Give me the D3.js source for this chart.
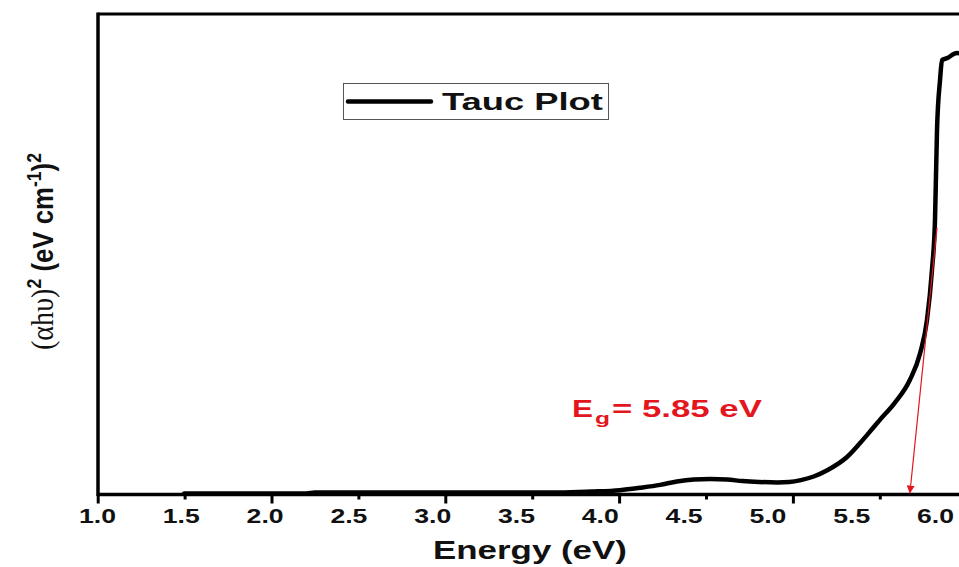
<!DOCTYPE html>
<html>
<head>
<meta charset="utf-8">
<script src="https://cdn.jsdelivr.net/npm/d3@7"></script>
<style>
  html, body { margin: 0; padding: 0; background: #fff; }
  svg { display: block; }
</style>
</head>
<body>
<svg id="chart" width="959" height="567"></svg>
<script>
// ---- data ----
const energy = [1.52, 1.8, 2.1, 2.25, 2.3, 2.6, 3.0, 3.4, 3.76, 3.95, 4.12, 4.24, 4.36, 4.46, 4.56, 4.66, 4.76, 4.85, 4.95, 5.06, 5.13, 5.2, 5.28, 5.36, 5.475, 5.553, 5.63, 5.67, 5.76, 5.85, 5.911, 5.952, 5.982, 6.0, 6.012, 6.03, 6.042, 6.072, 6.131, 6.16];
const tauc   = [0.001, 0.001, 0.001, 0.0012, 0.003, 0.003, 0.003, 0.003, 0.003, 0.005, 0.008, 0.013, 0.019, 0.026, 0.030, 0.031, 0.030, 0.027, 0.025, 0.024, 0.025, 0.029, 0.037, 0.050, 0.077, 0.106, 0.1375, 0.154, 0.19, 0.2375, 0.293, 0.362, 0.467, 0.571, 0.758, 0.8625, 0.904, 0.908, 0.919, 0.916];
const majorTicks = [1.0, 2.0, 3.0, 4.0, 5.0, 6.0];
const minorTicks = [1.5, 2.5, 3.5, 4.5, 5.5];
const tickLabels = [1.0, 1.5, 2.0, 2.5, 3.0, 3.5, 4.0, 4.5, 5.0, 5.5, 6.0];
const tangent = [[6.012, 0.555], [5.85, 0.0]];
const bandGap = 5.85;
const legendLabel = "Tauc Plot";
const xTitle = "Energy (eV)";

// ---- layout ----
const svg = d3.select("#chart");
const FONT = "'Liberation Sans', Arial, Helvetica, sans-serif";
const padL = 98, padT = 14, padB = 494.5, padR = 959;

const x = d3.scaleLinear().domain([1.0, 6.0]).range([97, 935]);        // data & labels
const xt = d3.scaleLinear().domain([1.0, 6.0]).range([97.7, 966.7]);   // tick marks
const y = d3.scaleLinear().domain([0, 1]).range([494, 14]);

// tick marks
const gMaj = svg.append("g").attr("transform", `translate(0,${padB})`)
  .call(d3.axisBottom(xt).tickValues(majorTicks).tickSize(9).tickFormat(""));
const gMin = svg.append("g").attr("transform", `translate(0,${padB})`)
  .call(d3.axisBottom(xt).tickValues(minorTicks).tickSize(5).tickFormat(""));
[gMaj, gMin].forEach(g => {
  g.select(".domain").remove();
  g.selectAll(".tick line").attr("stroke", "#000").attr("stroke-width", 3);
});

// tick labels
const gLab = svg.append("g").attr("transform", `translate(0,${padB})`)
  .call(d3.axisBottom(x).tickValues(tickLabels).tickSize(0).tickFormat(d3.format(".1f")));
gLab.select(".domain").remove();
gLab.selectAll(".tick text")
  .attr("y", 0).attr("dy", null)
  .attr("fill", "#111")
  .style("font-family", FONT).style("font-weight", "bold").style("font-size", "19.5px")
  .each(function () {
    const w = this.getComputedTextLength();
    d3.select(this).attr("transform", `translate(0,28) scale(${37 / w},1)`);
  });

// frame
svg.append("line").attr("x1", padL).attr("x2", padR).attr("y1", padT).attr("y2", padT)
  .attr("stroke", "#000").attr("stroke-width", 3);
svg.append("line").attr("x1", padL).attr("x2", padL).attr("y1", padT - 1.5).attr("y2", padB + 1.5)
  .attr("stroke", "#000").attr("stroke-width", 3.5);
svg.append("line").attr("x1", padL).attr("x2", padR).attr("y1", padB).attr("y2", padB)
  .attr("stroke", "#000").attr("stroke-width", 3.5);

// curve
const line = d3.line().x(d => x(d[0])).y(d => y(d[1])).curve(d3.curveMonotoneX);
svg.append("path").datum(energy.map((e, i) => [e, tauc[i]]))
  .attr("d", line).attr("fill", "none").attr("stroke", "#000")
  .attr("stroke-width", 4.5).attr("stroke-linejoin", "round").attr("stroke-linecap", "round");

// tangent + arrow
const red = "#e3161e";
svg.append("defs").append("marker").attr("id", "arr")
  .attr("viewBox", "0 0 10 10").attr("refX", 10).attr("refY", 5)
  .attr("markerWidth", 8).attr("markerHeight", 8).attr("markerUnits", "userSpaceOnUse")
  .attr("orient", "auto")
  .append("path").attr("d", "M0,0 L10,5 L0,10 Z").attr("fill", red);
svg.append("line")
  .attr("x1", x(tangent[0][0])).attr("y1", y(tangent[0][1]))
  .attr("x2", x(tangent[1][0])).attr("y2", y(tangent[1][1]) - 0.5)
  .attr("stroke", red).attr("stroke-width", 1.2).attr("marker-end", "url(#arr)");

// helper to stretch text to a measured width
function fitText(parent, str, opts) {
  const g = parent.append("g");
  const t = g.append("text").text(str)
    .attr("fill", opts.fill || "#111")
    .style("font-family", opts.family || FONT)
    .style("font-weight", opts.weight || "bold")
    .style("font-size", opts.size + "px");
  const w = t.node().getComputedTextLength();
  g.attr("transform", `translate(${opts.x},${opts.y}) scale(${opts.w / w},1)`);
  return g;
}

// band gap label
fitText(svg, "E", { x: 572, y: 417, w: 21, size: 24, fill: red });
fitText(svg, "g", { x: 595, y: 424, w: 15, size: 17, fill: red });
fitText(svg, "= " + bandGap.toFixed(2) + " eV", { x: 612, y: 417, w: 150, size: 24, fill: red });

// legend
svg.append("rect").attr("x", 343.5).attr("y", 83.5).attr("width", 265).attr("height", 36)
  .attr("fill", "#fff").attr("stroke", "#555").attr("stroke-width", 1);
svg.append("line").attr("x1", 348).attr("x2", 431).attr("y1", 101.5).attr("y2", 101.5)
  .attr("stroke", "#000").attr("stroke-width", 4.5).attr("stroke-linecap", "round");
fitText(svg, legendLabel, { x: 442, y: 109.5, w: 161, size: 24 });

// x title
fitText(svg, xTitle, { x: 433, y: 559, w: 194, size: 26 });

// y title
const gy = svg.append("g");
const ty = gy.append("text").attr("fill", "#111")
  .style("font-family", FONT).style("font-weight", "bold").style("font-size", "22px");
ty.append("tspan").text("(αhυ)").style("font-family", "'Liberation Serif', 'DejaVu Serif', serif").style("font-weight", "normal").style("font-size", "24px");
ty.append("tspan").text("2").attr("dy", -9).style("font-size", "15px");
ty.append("tspan").text(" (eV cm").attr("dy", 9);
ty.append("tspan").text("-1").attr("dy", -9).style("font-size", "15px");
ty.append("tspan").text(")").attr("dy", 9);
ty.append("tspan").text("2").attr("dy", -9).style("font-size", "15px");
const wy = ty.node().getComputedTextLength();
gy.attr("transform", `translate(53,350) rotate(-90) scale(${197 / wy},1.33)`);
</script>
</body>
</html>
